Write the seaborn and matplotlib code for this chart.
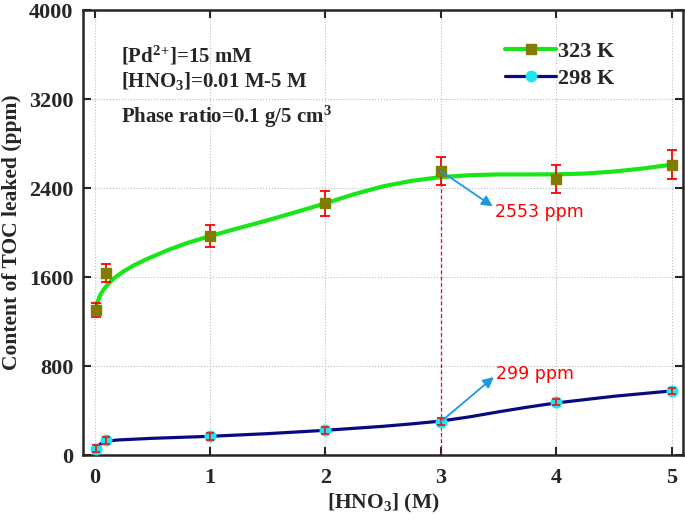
import numpy as np
import pandas as pd
import matplotlib
matplotlib.use('Agg')
import matplotlib.pyplot as plt
from matplotlib.lines import Line2D
import seaborn as sns

# measured points
hno3 = [0.01, 0.1, 1, 2, 3, 4, 5]
toc_323 = [1301, 1636, 1966, 2262, 2553, 2484, 2610]
err_323 = [63, 83, 100, 112, 128, 125, 132]
toc_298 = [57, 132, 168, 222, 299, 477, 576]
err_298 = [30, 30, 30, 30, 30, 30, 30]

# smooth fit curves
fit_x_323 = [0.02, 0.05, 0.08, 0.12, 0.17, 0.25, 0.34, 0.45, 0.63, 0.8, 1.0, 1.25, 1.5,
             1.75, 2.0, 2.25, 2.5, 2.75, 3.0, 3.25, 3.5, 3.75, 4.0, 4.25, 4.5, 4.75, 5.0]
fit_y_323 = [1361, 1440, 1490, 1540, 1590, 1650, 1705, 1760, 1840, 1905, 1968, 2040, 2110,
             2185, 2262, 2345, 2415, 2465, 2498, 2515, 2522, 2522, 2523, 2530, 2548, 2575, 2610]
fit_x_298 = [0.03, 0.06, 0.1, 0.2, 0.5, 1.0, 1.5, 2.0, 2.5, 2.75, 3.0, 3.25, 3.5, 3.75,
             4.0, 4.5, 5.0]
fit_y_298 = [80, 105, 123, 135, 150, 168, 192, 222, 258, 280, 305, 343, 388, 430,
             468, 528, 576]

legend_labels = ['323 K', '298 K']
conditions = ['[Pd$^{2\\!+\\!}$]=15 mM', '[HNO$_3$]=0.01 M-5 M', 'Phase ratio=0.1 g/5 cm$^3$']
callout_x = 3
callout_labels = ['2553 ppm', '299 ppm']

sns.set_style('ticks')
plt.rcParams['font.family'] = ['Liberation Serif', 'DejaVu Serif']
plt.rcParams['font.weight'] = 'bold'
plt.rcParams['mathtext.fontset'] = 'custom'
plt.rcParams['mathtext.rm'] = 'Liberation Serif:bold'
plt.rcParams['mathtext.it'] = 'Liberation Serif:bold'
plt.rcParams['mathtext.bf'] = 'Liberation Serif:bold'
plt.rcParams['mathtext.default'] = 'rm'

fig = plt.figure(figsize=(6.85, 5.19), dpi=100)
ax = fig.add_axes([0.1212, 0.1233, 0.876, 0.8574])

df_323 = pd.DataFrame({'x': fit_x_323, 'y': fit_y_323})
df_298 = pd.DataFrame({'x': fit_x_298, 'y': fit_y_298})
green = '#19e619'
navy = '#0a0a80'
olive = '#807d00'
cyan = '#1ee6f0'
sns.lineplot(data=df_323, x='x', y='y', ax=ax, color=green, lw=3, sort=False, zorder=3)
sns.lineplot(data=df_298, x='x', y='y', ax=ax, color=navy, lw=2.3, sort=False, zorder=3)

# markers + error bars
ax.errorbar(hno3, toc_323, yerr=err_323, fmt='s', ms=7.5, mfc=olive, mec=olive,
            ecolor='red', elinewidth=1.3, capsize=3.5, capthick=1.3, zorder=4)
sns.scatterplot(x=hno3, y=toc_298, ax=ax, marker='o', s=75, color=cyan, edgecolor=cyan,
                linewidth=0, zorder=4)
ax.errorbar(hno3, toc_298, yerr=err_298, fmt='none', ecolor='#e02020', elinewidth=1.3,
            capsize=3, capthick=1.3, zorder=5)

# dashed marker at 3 M
ax.plot([callout_x, callout_x], [0, toc_323[4]], color='red', ls=(0, (3, 2)), lw=0.9, zorder=2)

arrow_kw = dict(arrowstyle='-|>', color='#1a9be0', lw=1.3, mutation_scale=16,
                shrinkA=0, shrinkB=0)
ax.annotate('', xy=(3.45, 2235), xytext=(callout_x, toc_323[4]), arrowprops=arrow_kw, zorder=5)
ax.annotate('', xy=(3.46, 701), xytext=(callout_x, toc_298[4]), arrowprops=arrow_kw, zorder=5)
ax.text(3.47, 2180, callout_labels[0], color='red', fontsize=12.5, family='DejaVu Sans',
        fontweight='normal', va='center', ha='left')
ax.text(3.48, 725, callout_labels[1], color='red', fontsize=12.5, family='DejaVu Sans',
        fontweight='normal', va='center', ha='left')

# condition notes
for txt, yy in zip(conditions, [3590, 3360, 3040]):
    ax.text(0.225, yy, txt, fontsize=15, fontweight='bold', va='center', ha='left')

ax.set_xlim(-0.1, 5.1)
ax.set_ylim(0, 4000)
ax.set_xticks([0, 1, 2, 3, 4, 5])
ax.set_yticks([0, 800, 1600, 2400, 3200, 4000])
ax.grid(True, ls=':', color='#bbbbbb', lw=0.8)
ax.tick_params(direction='in', length=6, width=1.5, top=True, right=True, labelsize=16)
ax.tick_params(axis='x', pad=9)
ax.tick_params(axis='y', pad=7)
for s in ax.spines.values():
    s.set_linewidth(1.8)
    s.set_visible(True)
for lab in ax.get_xticklabels() + ax.get_yticklabels():
    lab.set_fontweight('bold')

ax.set_xlabel('[HNO$_3$] (M)', fontsize=15.5, fontweight='bold', labelpad=3)
ax.set_ylabel('Content of TOC leaked (ppm)', fontsize=15.5, fontweight='bold', labelpad=5)

handles = [Line2D([], [], color=green, lw=3, marker='s', ms=7.5, mfc=olive, mec=olive),
           Line2D([], [], color=navy, lw=2.3, marker='o', ms=7.5, mfc=cyan, mec=cyan)]
leg = ax.legend(handles, legend_labels, loc='upper left', bbox_to_anchor=(0.67, 0.975),
                frameon=False, fontsize=16, handlelength=2.3, handletextpad=0.1,
                labelspacing=0.3)
for t in leg.get_texts():
    t.set_fontweight('bold')

fig.savefig('out.png', dpi=100)
